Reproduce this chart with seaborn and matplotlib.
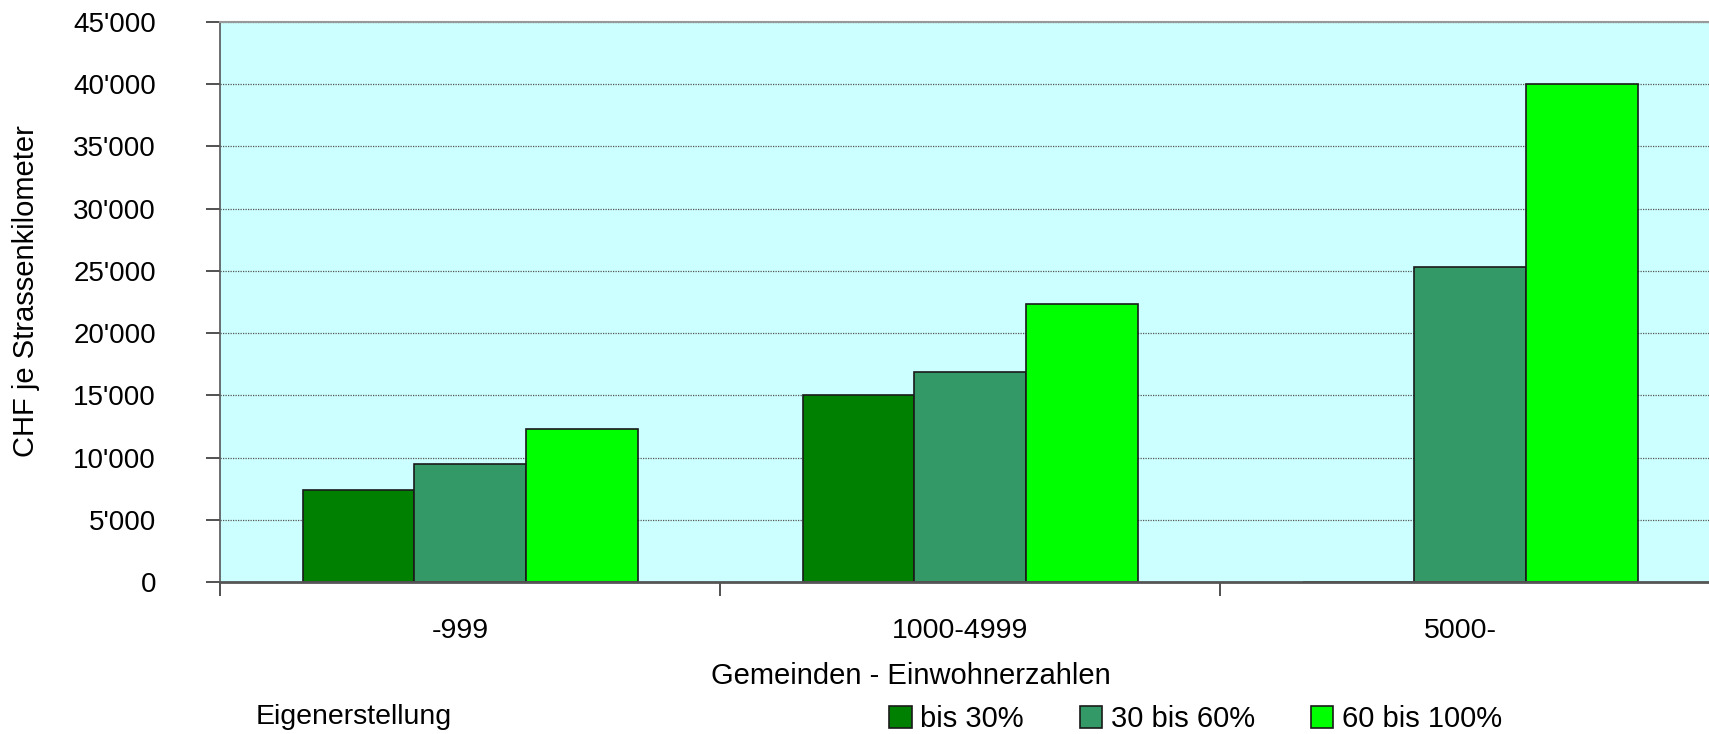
import matplotlib
matplotlib.use("Agg")
import matplotlib.pyplot as plt
import matplotlib.ticker as mticker
import matplotlib.transforms as mtransforms
import seaborn as sns
import pandas as pd

categories = ["-999", "1000-4999", "5000-"]
series = ["bis 30%", "30 bis 60%", "60 bis 100%"]
vals_bis30 = [7400, 15000, 0]
vals_30_60 = [9500, 16900, 25350]
vals_60_100 = [12300, 22300, 40000]
colors = ["#008000", "#339966", "#00FF00"]

rows = []
for s, vals in zip(series, [vals_bis30, vals_30_60, vals_60_100]):
    for c, v in zip(categories, vals):
        rows.append({"Kategorie": c, "Serie": s, "Wert": v})
df = pd.DataFrame(rows)

sns.set_style("white")
plt.rcParams["font.family"] = ["Liberation Sans", "DejaVu Sans"]
plt.rcParams["text.color"] = "black"
plt.rcParams["xtick.color"] = "black"
plt.rcParams["ytick.color"] = "black"
plt.rcParams["axes.labelcolor"] = "black"

W, H = 1709, 734
fig = plt.figure(figsize=(W / 100, H / 100), dpi=100)
ax = fig.add_axes([220 / W, 1 - 582 / H, 1500 / W, (582 - 22) / H])
ax.set_facecolor("#CCFFFF")

sns.barplot(data=df, x="Kategorie", y="Wert", hue="Serie", order=categories,
            hue_order=series, palette=colors, width=0.67, gap=0,
            edgecolor="#1a1a1a", linewidth=1.2, saturation=1, ax=ax, legend=True)

ax.set_xlim(-0.5, 2.5)
ax.set_ylim(0, 45000)
ax.yaxis.set_major_locator(mticker.MultipleLocator(5000))
ax.yaxis.set_major_formatter(mticker.FuncFormatter(
    lambda v, p: "0" if v == 0 else f"{int(v):,}".replace(",", "'")))
ax.yaxis.grid(True, linestyle=(0, (1, 1)), color="#555555", linewidth=0.9)
ax.set_axisbelow(True)

# x ticks at boundaries, labels in the middle
ax.set_xticks([-0.5, 0.5, 1.5, 2.5])
ax.set_xticklabels([])
ax.set_xticks([0, 1, 2], minor=True)
ax.set_xticklabels(categories, minor=True)
ax.tick_params(axis="x", which="major", direction="out", length=10, width=1.2, color="#333333", bottom=True)
ax.tick_params(axis="x", which="minor", length=0, pad=26, labelsize=20.5)
ax.tick_params(axis="y", direction="out", length=10, width=1.2, color="#333333", pad=36, labelsize=20, left=True)
shift = mtransforms.ScaledTranslation(-10 / 100, 0, fig.dpi_scale_trans)
for lbl in ax.get_xticklabels(minor=True):
    lbl.set_transform(lbl.get_transform() + shift)

for side in ["top", "bottom", "left", "right"]:
    ax.spines[side].set_visible(True)
ax.spines["top"].set_color("#999999")
ax.spines["top"].set_linewidth(1.5)
ax.spines["bottom"].set_color("#555555")
ax.spines["bottom"].set_linewidth(2)
ax.spines["left"].set_color("#555555")
ax.spines["left"].set_linewidth(1.2)
ax.spines["right"].set_visible(False)

ax.set_xlabel("")
ax.set_ylabel("")
fig.text(26 / W, 1 - 291 / H, "CHF je Strassenkilometer", fontsize=21,
         rotation=90, ha="center", va="center")
fig.text(911 / W, 1 - 676 / H, "Gemeinden - Einwohnerzahlen", fontsize=21,
         ha="center", va="center")
fig.text(256 / W, 1 - 717 / H, "Eigenerstellung", fontsize=20.5, ha="left", va="center")

handles, labels = ax.get_legend_handles_labels()
ax.legend(handles, labels, ncol=3, frameon=False, fontsize=21,
          loc="center left", bbox_to_anchor=(889 / W, 1 - 719 / H),
          bbox_transform=fig.transFigure, handlelength=0.78, handleheight=0.78,
          handletextpad=0.3, columnspacing=1.9, borderaxespad=0, borderpad=0)

fig.savefig("out.png", dpi=100)
